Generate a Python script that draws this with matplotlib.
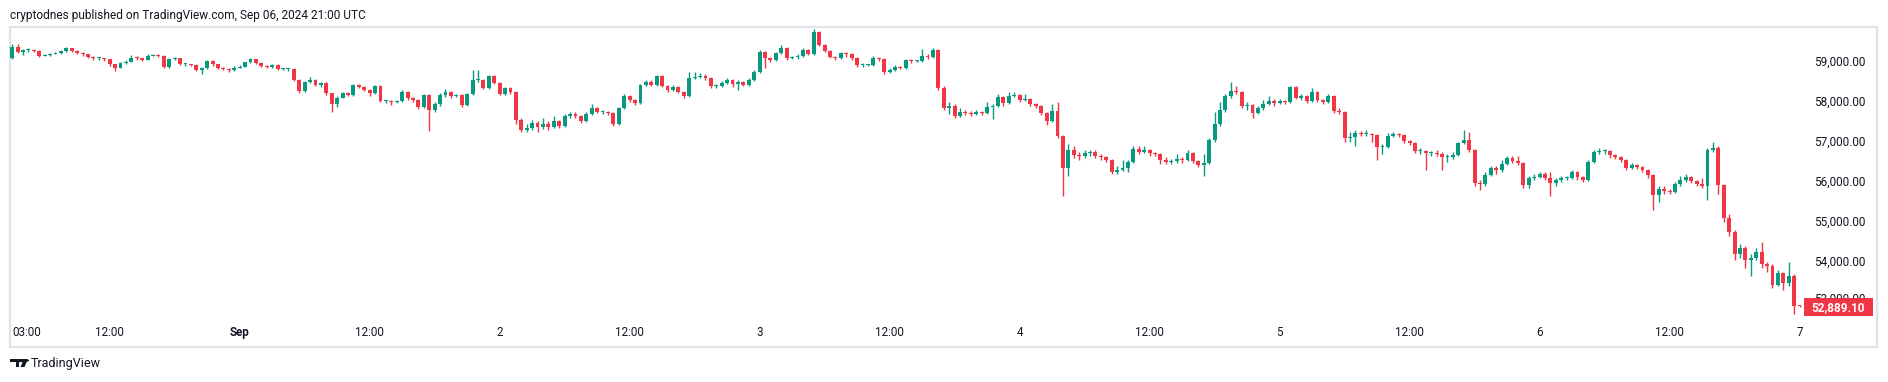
import numpy as np
import matplotlib
matplotlib.use("Agg")
import matplotlib.pyplot as plt
from matplotlib.patches import Rectangle, Polygon, Circle

plt.rcParams['font.family'] = ['Roboto', 'DejaVu Sans']

# BTC/USD, 30 minute candles, Aug 31 03:00 -> Sep 7 00:00
first_open = 59100
closes = [
    59380, 59260, 59300, 59300, 59280, 59160, 59175, 59210, 59220, 59275, 59340, 59280, 59220, 59190, 59130,
    59090, 59090, 59065, 58940, 58860, 58970, 59010, 59110, 59090, 59060, 59160, 59175, 59150, 58870, 59075,
    59090, 58940, 58940, 58925, 58800, 58840, 59025, 58940, 58860, 58825, 58800, 58860, 58885, 58990, 59065,
    58970, 58910, 58885, 58925, 58825, 58825, 58825, 58550, 58275, 58490, 58550, 58425, 58470, 58215, 57940,
    58110, 58215, 58180, 58425, 58385, 58300, 58215, 58400, 58025, 58025, 58000, 58025, 58250, 58100, 58050,
    57875, 58175, 57800, 57950, 58175, 58250, 58150, 58175, 57925, 58200, 58550, 58550, 58350, 58650, 58475,
    58200, 58350, 58250, 57550, 57300, 57350, 57475, 57375, 57450, 57375, 57525, 57400, 57650, 57700, 57650,
    57525, 57700, 57850, 57750, 57750, 57725, 57450, 57850, 58150, 58050, 57975, 58425, 58500, 58425, 58650,
    58400, 58300, 58375, 58250, 58150, 58600, 58625, 58650, 58600, 58400, 58400, 58475, 58550, 58450, 58500,
    58425, 58550, 58750, 59250, 59100, 59050, 59225, 59350, 59100, 59125, 59150, 59300, 59200, 59750, 59425,
    59275, 59125, 59100, 59225, 59200, 59100, 58925, 58925, 58925, 59100, 59075, 58750, 58800, 58875, 58850,
    59050, 59025, 59025, 59150, 59125, 59300, 58350, 57850, 57900, 57650, 57750, 57725, 57700, 57750, 57725,
    57875, 57900, 58125, 57975, 58150, 58175, 58050, 58075, 57950, 57900, 57725, 57525, 57775, 57150, 56350,
    56800, 56675, 56650, 56725, 56750, 56650, 56625, 56550, 56250, 56300, 56350, 56500, 56825, 56750, 56800,
    56725, 56700, 56550, 56500, 56525, 56575, 56550, 56725, 56525, 56425, 56475, 57050, 57450, 57800, 58150,
    58275, 58250, 57900, 57925, 57725, 57850, 57950, 58025, 57975, 58025, 58000, 58375, 58100, 58150, 58025,
    58250, 58050, 58000, 58150, 57775, 57750, 57100, 57125, 57225, 57200, 57200, 57175, 56875, 56875, 57150,
    57200, 57175, 57025, 56975, 56775, 56775, 56725, 56725, 56700, 56625, 56625, 56675, 56975, 57050, 56800,
    55975, 55950, 56175, 56350, 56300, 56450, 56600, 56525, 56475, 55925, 56100, 56125, 56200, 56100, 55975,
    56050, 56100, 56100, 56250, 56125, 56050, 56500, 56750, 56775, 56775, 56675, 56625, 56550, 56350, 56425,
    56375, 56300, 56175, 55675, 55825, 55775, 55750, 55950, 56050, 56125, 56025, 55950, 55900, 56800, 56850,
    55925, 55100, 54750, 54200, 54350, 54050, 54100, 54250, 53950, 53900, 53425, 53725, 53475, 53650, 52900,
    52889.1,
]
highs = [
    59440, 59440, 59330, 59340, 59320, 59300, 59200, 59230, 59250, 59300, 59370, 59360, 59300, 59250, 59210,
    59150, 59130, 59110, 59080, 58960, 58990, 59040, 59170, 59140, 59110, 59190, 59210, 59200, 59170, 59110,
    59120, 59100, 58970, 58960, 58940, 58880, 59060, 59040, 58960, 58880, 58850, 58890, 58920, 59010, 59090,
    59080, 58990, 58930, 58960, 58950, 58860, 58860, 58840, 58570, 58520, 58620, 58570, 58510, 58500, 58230,
    58140, 58250, 58240, 58450, 58460, 58400, 58320, 58430, 58420, 58060, 58050, 58060, 58300, 58270, 58120,
    58080, 58210, 58190, 58000, 58220, 58330, 58270, 58210, 58190, 58230, 58800, 58800, 58580, 58680, 58670,
    58490, 58380, 58370, 58270, 57600, 57450, 57550, 57520, 57600, 57520, 57650, 57560, 57700, 57750, 57740,
    57670, 57740, 57950, 57880, 57800, 57780, 57740, 57880, 58200, 58180, 58080, 58460, 58560, 58540, 58680,
    58670, 58430, 58420, 58400, 58280, 58750, 58750, 58720, 58700, 58620, 58450, 58520, 58600, 58570, 58540,
    58530, 58600, 58800, 59300, 59280, 59130, 59260, 59420, 59370, 59160, 59190, 59350, 59320, 59825, 59780,
    59450, 59290, 59160, 59260, 59260, 59220, 59120, 58970, 58960, 59140, 59130, 59090, 58850, 58920, 58900,
    59080, 59070, 59060, 59320, 59200, 59350, 59320, 58400, 58000, 57950, 57850, 57800, 57780, 57800, 57780,
    58000, 57950, 58200, 58150, 58250, 58250, 58200, 58200, 58100, 57980, 57920, 57750, 57950, 58000, 57170,
    56950, 56900, 56750, 56800, 56800, 56800, 56700, 56650, 56570, 56400, 56550, 56550, 56900, 56900, 56900,
    56830, 56760, 56720, 56620, 56580, 56700, 56620, 56800, 56750, 56550, 56700, 57100, 57750, 58000, 58200,
    58500, 58400, 58270, 58000, 57950, 57900, 58050, 58150, 58080, 58080, 58060, 58400, 58390, 58200, 58170,
    58350, 58270, 58070, 58200, 58170, 57850, 57770, 57250, 57300, 57280, 57300, 57230, 57200, 56950, 57220,
    57250, 57230, 57200, 57050, 57000, 56850, 56800, 56780, 56800, 56750, 56700, 56750, 57000, 57300, 57250,
    56820, 56050, 56250, 56400, 56400, 56550, 56650, 56650, 56650, 56500, 56150, 56200, 56250, 56250, 56250,
    56100, 56150, 56150, 56300, 56270, 56150, 56550, 56800, 56850, 56830, 56800, 56700, 56650, 56570, 56480,
    56450, 56400, 56330, 56200, 55900, 55900, 55820, 56000, 56150, 56200, 56150, 56050, 56100, 56850, 57000,
    56900, 55950, 55200, 54800, 54450, 54400, 54200, 54350, 54500, 54000, 53950, 53800, 53750, 54000, 53700,
    52920,
]
lows = [
    59080, 59230, 59170, 59260, 59250, 59130, 59140, 59160, 59190, 59200, 59260, 59250, 59190, 59160, 59100,
    59060, 59050, 59030, 58910, 58780, 58840, 58950, 59000, 59060, 59030, 59040, 59140, 59120, 58850, 58850,
    59050, 58920, 58910, 58890, 58770, 58700, 58820, 58910, 58830, 58790, 58760, 58780, 58840, 58870, 58970,
    58950, 58880, 58850, 58860, 58790, 58790, 58780, 58520, 58220, 58250, 58470, 58390, 58380, 58180, 57750,
    57880, 58090, 58150, 58160, 58350, 58270, 58150, 58200, 57990, 57970, 57930, 57970, 58000, 58060, 58000,
    57830, 57850, 57280, 57760, 57900, 58130, 58100, 58120, 57880, 57900, 58180, 58500, 58320, 58330, 58440,
    58170, 58180, 58200, 57450, 57250, 57250, 57300, 57250, 57330, 57300, 57340, 57350, 57380, 57600, 57600,
    57480, 57500, 57680, 57720, 57700, 57680, 57400, 57430, 57830, 58000, 57930, 57950, 58400, 58390, 58400,
    58370, 58260, 58280, 58220, 58100, 58130, 58580, 58600, 58560, 58360, 58350, 58380, 58450, 58380, 58300,
    58390, 58400, 58530, 58730, 58850, 59000, 59030, 59200, 59060, 59070, 59080, 59130, 59170, 59180, 59400,
    59240, 59090, 59060, 59080, 59130, 59060, 58880, 58880, 58890, 58910, 59030, 58700, 58720, 58780, 58820,
    58830, 58980, 58990, 59000, 59080, 59100, 58300, 57800, 57700, 57600, 57620, 57680, 57650, 57670, 57680,
    57700, 57580, 57880, 57900, 57950, 58130, 58000, 58020, 57900, 57850, 57680, 57425, 57500, 57100, 55650,
    56150, 56600, 56550, 56600, 56650, 56600, 56550, 56500, 56200, 56200, 56280, 56250, 56480, 56700, 56720,
    56650, 56650, 56450, 56450, 56450, 56480, 56480, 56520, 56480, 56370, 56150, 56450, 57000, 57400, 57750,
    58100, 58200, 57850, 57800, 57600, 57700, 57800, 57930, 57900, 57950, 57950, 57980, 58070, 58050, 57980,
    58000, 58000, 57950, 57980, 57730, 57700, 57000, 57000, 56900, 57150, 57150, 57000, 56550, 56700, 56850,
    57120, 57130, 56980, 56930, 56730, 56700, 56300, 56650, 56650, 56300, 56500, 56580, 56650, 56950, 56750,
    55900, 55800, 55900, 56150, 56200, 56250, 56420, 56480, 56430, 55850, 55850, 56050, 56100, 56050, 55650,
    55900, 56000, 56050, 56080, 56050, 56000, 56030, 56480, 56700, 56700, 56600, 56580, 56500, 56300, 56320,
    56320, 56250, 56100, 55300, 55500, 55700, 55700, 55720, 55900, 56000, 55980, 55900, 55850, 55550, 56750,
    55700, 55000, 54650, 54050, 54100, 53850, 53650, 54050, 53850, 53750, 53350, 53400, 53300, 53400, 52700,
    52870,
]
opens = [first_open] + closes[:-1]

# axis labels
time_ticks = [0, 18, 42, 66, 90, 114, 138, 162, 186, 210, 234, 258, 282, 306, 330]
time_labels = ["03:00", "12:00", "Sep", "12:00", "2", "12:00", "3", "12:00", "4",
               "12:00", "5", "12:00", "6", "12:00", "7"]
price_ticks = [53000, 54000, 55000, 56000, 57000, 58000, 59000]
last_price = 52889.10

UP, DOWN = "#089981", "#F23645"
TXT = "#131722"
W, H = 1888, 382

fig = plt.figure(figsize=(W / 100, H / 100), dpi=100)
fig.patch.set_facecolor("white")


def px_box(l, t, r, b):
    return [l / W, 1 - b / H, (r - l) / W, (b - t) / H]


ax = fig.add_axes(px_box(10, 27, 1877, 347))
ax.set_xlim(-0.4, 344.3)
ax.set_ylim(51875, 59875)
ax.set_xticks([])
ax.set_yticks([])
for s in ax.spines.values():
    s.set_color("#e0e3eb")
    s.set_linewidth(1.6)

o = np.array(opens, dtype=float)
c = np.array(closes, dtype=float)
hi = np.array(highs, dtype=float)
lo = np.array(lows, dtype=float)
idx = np.arange(len(c))
cols = np.where(c >= o, UP, DOWN)
bottom = np.minimum(o, c)
height = np.maximum(np.abs(c - o), 25)

ax.vlines(idx, lo, hi, colors=cols, linewidth=1.0, zorder=2)
ax.bar(idx, height, bottom=bottom, width=0.72, color=cols, linewidth=0, zorder=3)

# time scale
xt = ax.get_xaxis_transform()
for pos, lab in zip(time_ticks, time_labels):
    ha = "left" if pos == 0 else "center"
    ax.text(pos, 0.044, lab, transform=xt, ha=ha, va="center", fontsize=8.4,
            color=TXT, fontweight="bold" if lab == "Sep" else "normal")

# price scale (53,000 sits behind the last-price tag, as in TradingView)
yt = ax.get_yaxis_transform()
x_lab = (1814 - 10) / 1867
for p in price_ticks:
    ax.text(x_lab, p + (60 if p == 53000 else 0), f"{p:,.2f}", transform=yt,
            ha="left", va="center", fontsize=8.5, color=TXT, zorder=4)

box_l = (1804 - 10) / 1867
box_w = 69 / 1867
ax.add_patch(Rectangle((box_l, last_price - 230), box_w, 440, transform=yt,
                       facecolor=DOWN, edgecolor="none", zorder=5, clip_on=False))
ax.text(box_l + box_w / 2, last_price - 20, f"{last_price:,.2f}", transform=yt,
        ha="center", va="center", fontsize=8.5, color="white",
        fontweight="bold", zorder=6)

# header
fig.text(10 / W, 1 - 15 / H, "cryptodnes published on TradingView.com, Sep 06, 2024 21:00 UTC",
         ha="left", va="center", fontsize=8.6, color=TXT)


# footer logo
def fx(x):
    return x / W


def fy(y):
    return 1 - y / H


fig.patches.append(Polygon([(fx(10), fy(359)), (fx(19), fy(359)), (fx(19), fy(367)),
                            (fx(15.5), fy(367)), (fx(15.5), fy(362)), (fx(10), fy(362))],
                           closed=True, transform=fig.transFigure, facecolor=TXT, edgecolor="none"))
fig.patches.append(Circle((fx(21.2), fy(360.6)), 1.6 / H, transform=fig.transFigure,
                          facecolor=TXT, edgecolor="none"))
fig.patches.append(Polygon([(fx(24), fy(359)), (fx(28), fy(359)), (fx(24.5), fy(367)),
                            (fx(20.5), fy(367))],
                           closed=True, transform=fig.transFigure, facecolor=TXT, edgecolor="none"))
fig.text(fx(31), fy(363), "TradingView", ha="left", va="center", fontsize=9, color=TXT)

fig.savefig("out.png", dpi=100, facecolor="white")
